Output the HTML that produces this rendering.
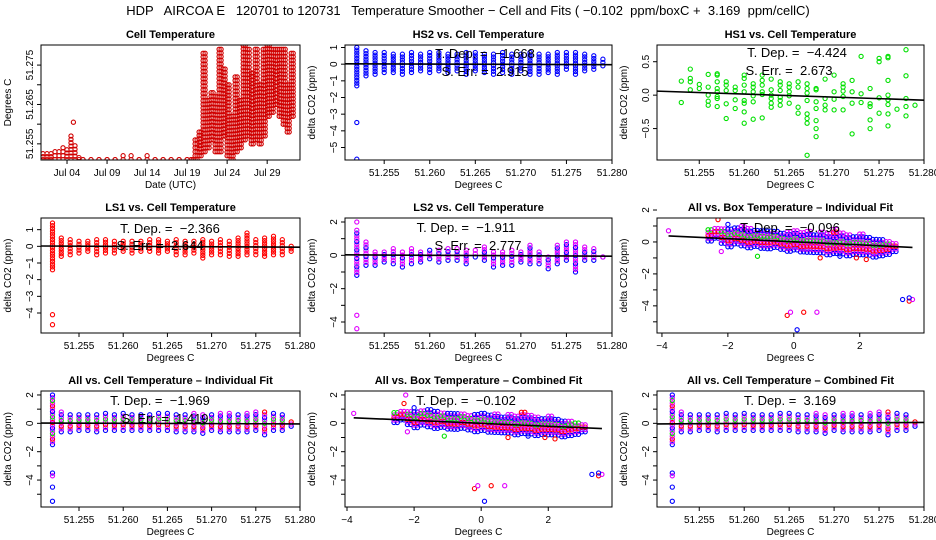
<!DOCTYPE html>
<html><head><meta charset="utf-8"><style>
html,body{margin:0;padding:0;background:#fff;}
svg{display:block;font-family:"Liberation Sans",sans-serif;}
text{white-space:pre;}
</style></head><body>
<svg id="c" width="936" height="540" viewBox="0 0 936 540">
<text x="468" y="15" text-anchor="middle" font-size="13">HDP   AIRCOA E   120701 to 120731   Temperature Smoother − Cell and Fits ( −0.102  ppm/boxC +  3.169  ppm/cellC)</text>
</svg>
<script>
// ---------- data ----------
const CT_DAY=[1,1.5,2,2.5,3,3.5,4,4.5,5,5.5,6,7,8,9,10,11,12,13,14,15,16,17,18,19,19.5,20,20.5,21,21.5,22,22.5,23,23.5,24,24.5,25,25.5,26,26.5,27,27.5,28,28.5,29,29.5,30,30.5,31,31.5,32];
const CT_LO=[51.251,51.251,51.251,51.251,51.251,51.251,51.251,51.251,51.251,51.251,51.251,51.251,51.251,51.251,51.251,51.251,51.251,51.251,51.251,51.251,51.251,51.251,51.251,51.251,51.251,51.251,51.252,51.253,51.254,51.256,51.253,51.253,51.257,51.252,51.251,51.253,51.254,51.256,51.257,51.255,51.256,51.255,51.257,51.262,51.263,51.265,51.262,51.260,51.258,51.262];
const CT_HI=[51.2525,51.2525,51.2525,51.253,51.253,51.254,51.2535,51.257,51.2545,51.2515,51.251,51.251,51.251,51.251,51.251,51.252,51.252,51.251,51.252,51.251,51.251,51.251,51.251,51.251,51.251,51.256,51.258,51.278,51.266,51.268,51.267,51.279,51.274,51.270,51.262,51.272,51.266,51.280,51.279,51.273,51.279,51.270,51.279,51.280,51.279,51.279,51.279,51.279,51.270,51.278];
const CT_OUT_X=[4.8]; const CT_OUT_Y=[51.2605];

const CELL_X=[51.252,51.253,51.254,51.255,51.256,51.257,51.258,51.259,51.260,51.261,51.262,51.263,51.264,51.265,51.266,51.267,51.268,51.269,51.270,51.271,51.272,51.273,51.274,51.275,51.276,51.277,51.278,51.279];
const HS2_LO=[-1.3,-0.7,-0.6,-0.5,-0.5,-0.6,-0.5,-0.4,-0.5,-0.4,-0.5,-0.4,-0.6,-0.4,-0.5,-0.6,-0.5,-0.6,-0.4,-0.6,-0.6,-0.5,-0.6,-0.3,-0.6,-0.4,-0.3,-0.1];
const HS2_HI=[1.0,0.8,0.7,0.7,0.6,0.6,0.7,0.6,0.7,0.7,0.6,0.6,0.7,0.7,0.6,0.6,0.7,0.6,0.6,0.7,0.6,0.6,0.7,0.7,0.7,0.6,0.5,0.3];
const HS2_OUT_X=[51.252,51.252]; const HS2_OUT_Y=[-3.5,-5.7];

const HS1_X=[51.253,51.253,51.254,51.254,51.254,51.254,51.255,51.255,51.256,51.256,51.256,51.256,51.256,51.257,51.257,51.257,51.257,51.257,51.257,51.257,51.257,51.258,51.258,51.258,51.258,51.258,51.259,51.259,51.259,51.259,51.260,51.260,51.260,51.260,51.260,51.260,51.260,51.260,51.261,51.261,51.261,51.261,51.261,51.261,51.262,51.262,51.262,51.262,51.262,51.262,51.263,51.263,51.263,51.263,51.263,51.263,51.264,51.264,51.264,51.264,51.264,51.264,51.265,51.265,51.265,51.265,51.265,51.266,51.266,51.266,51.266,51.267,51.267,51.267,51.267,51.267,51.267,51.267,51.267,51.268,51.268,51.268,51.268,51.268,51.268,51.268,51.269,51.269,51.269,51.269,51.270,51.270,51.270,51.270,51.271,51.271,51.271,51.271,51.271,51.272,51.272,51.272,51.272,51.273,51.273,51.273,51.274,51.274,51.274,51.274,51.274,51.275,51.275,51.275,51.275,51.276,51.276,51.276,51.276,51.276,51.276,51.276,51.276,51.277,51.278,51.278,51.278,51.278,51.278,51.279];
const HS1_Y=[0.21,-0.11,0.39,0.25,0.2,0.08,0.16,0.1,0.31,0.12,0,-0.09,-0.15,0.32,0.3,0.2,0.1,0.05,-0.02,-0.05,-0.17,0.2,0.15,0.07,-0.13,-0.35,0.12,0.07,-0.07,-0.2,0.3,0.25,0.15,0.05,-0.08,-0.12,-0.25,-0.42,0.17,0.12,0.05,-0.01,-0.1,-0.36,0.3,0.22,0.15,0.05,0.01,-0.34,0.24,0.08,0.0,-0.05,-0.12,-0.18,0.2,0.15,0.07,-0.03,-0.08,-0.15,0.17,0.12,0.05,-0.01,-0.12,0.2,0.12,-0.18,-0.27,0.17,0.1,0.03,-0.08,-0.28,-0.35,-0.42,-0.9,0.1,0.08,-0.1,-0.2,-0.38,-0.5,-0.62,0.24,-0.05,-0.15,-0.22,0.3,0.05,-0.06,-0.22,0.17,0.12,0.06,-0.02,-0.22,0.22,0.05,-0.12,-0.58,0.58,0.02,-0.11,0.1,-0.13,-0.17,-0.37,-0.5,0.55,0.5,-0.04,-0.27,0.58,0.56,0.22,0.0,-0.07,-0.14,-0.28,-0.46,-0.21,0.68,0.29,-0.05,-0.17,-0.31,-0.15];

const LS1_LO=[-1.4,-0.6,-0.5,-0.4,-0.3,-0.5,-0.4,-0.4,-0.3,-0.4,-0.3,-0.3,-0.4,-0.3,-0.5,-0.5,-0.4,-0.7,-0.5,-0.5,-0.6,-0.6,-0.5,-0.5,-0.6,-0.5,-0.5,-0.3];
const LS1_HI=[1.4,0.5,0.4,0.3,0.3,0.4,0.4,0.3,0.3,0.3,0.3,0.4,0.4,0.3,0.4,0.3,0.3,0.4,0.3,0.4,0.3,0.5,0.8,0.4,0.5,0.6,0.4,0.0];
const LS1_OUT_X=[51.252,51.252]; const LS1_OUT_Y=[-4.1,-4.7];

const LS2_LO=[-1.2,-0.6,-0.6,-0.4,-0.5,-0.7,-0.5,-0.4,-0.2,-0.4,-0.3,-0.3,-0.5,-0.1,-0.3,-0.7,-0.6,-0.6,-0.4,-0.5,-0.5,-0.8,-0.5,-0.3,-1.0,-0.3,-0.3,-0.1];
const LS2_HI=[1.5,0.8,0.2,0.2,0.4,0.2,0.4,0.2,0.3,0.3,0.4,0.4,0.3,0.3,0.5,0.2,0.2,0.3,0.2,0.6,0.2,-0.1,0.6,0.8,0.8,0.5,0.4,-0.1];
const LS2_OUT_X=[51.252,51.252,51.252]; const LS2_OUT_Y=[2.0,-3.6,-4.4];

const ALL_LO=[-1.5,-0.6,-0.6,-0.5,-0.5,-0.6,-0.5,-0.5,-0.5,-0.5,-0.5,-0.5,-0.5,-0.5,-0.6,-0.6,-0.6,-0.7,-0.5,-0.6,-0.6,-0.6,-0.6,-0.5,-0.8,-0.5,-0.5,-0.2];
const ALL_HI=[2.0,0.8,0.6,0.6,0.6,0.6,0.7,0.6,0.7,0.6,0.6,0.6,0.7,0.7,0.6,0.6,0.7,0.6,0.6,0.7,0.7,0.6,0.7,0.8,0.8,0.7,0.6,0.1];
const ALL_OUT_X=[51.252,51.252,51.252,51.252]; const ALL_OUT_Y=[-3.5,-3.7,-4.5,-5.5];

const BOX_X=[-2.6,-2.4,-2.2,-2.0,-1.8,-1.6,-1.4,-1.2,-1.0,-0.8,-0.6,-0.4,-0.2,0.0,0.2,0.4,0.6,0.8,1.0,1.2,1.4,1.6,1.8,2.0,2.2,2.4,2.6,2.8,3.0];
const BOX_LO=[-0.2,0.0,-0.3,-0.5,-0.3,-0.4,-0.5,-0.4,-0.5,-0.5,-0.4,-0.5,-0.6,-0.5,-0.6,-0.6,-0.6,-0.6,-0.7,-0.6,-0.6,-0.7,-0.6,-0.6,-0.6,-0.7,-0.6,-0.5,-0.3];
const BOX_HI=[0.5,0.6,0.6,0.6,0.7,0.8,0.7,0.6,0.6,0.6,0.6,0.5,0.6,0.7,0.6,0.7,0.5,0.7,0.6,0.9,0.7,0.6,0.5,0.7,0.5,0.4,0.4,0.3,0.2];
const BOX_OUT_X=[-3.8,-2.25,-2.3,-2.0,-2.2,1.9,2.2,0.8,1.4,-1.1,-0.2,-0.1,0.3,0.7,0.1,3.3,3.5,3.6,3.5];
const BOX_OUT_Y=[0.7,2.0,1.4,1.1,-0.6,-1.0,-1.1,-1.0,-0.9,-0.9,-4.6,-4.4,-4.4,-4.4,-5.5,-3.6,-3.7,-3.6,-3.5];
const BOX_OUT_C=["#e000ff","#e000ff","#ff0000","#0000ff","#e000ff","#ff0000","#ff0000","#ff0000","#0000ff","#00e000","#ff0000","#e000ff","#ff0000","#e000ff","#0000ff","#0000ff","#ff0000","#e000ff","#0000ff"];

// ---------- drawing helpers ----------
const NS="http://www.w3.org/2000/svg";
const svg=document.getElementById('c');
function mk(tag,attrs,parent){const e=document.createElementNS(NS,tag);for(const k in attrs)e.setAttribute(k,attrs[k]);(parent||svg).appendChild(e);return e;}
let clipN=0;
function panel(key,l,t,r,b,x0,x1,y0,y1){
  const g=mk('g',{});
  
  
  const id='clip'+(clipN++);
  const cp=mk('clipPath',{id:id},g);mk('rect',{x:l,y:t,width:r-l,height:b-t},cp);
  const pts=mk('g',{'clip-path':'url(#'+id+')'},g);
  
  
  return {g,pts,l,t,r,b,sx:v=>l+(v-x0)/(x1-x0)*(r-l),sy:v=>b-(v-y0)/(y1-y0)*(b-t)};
}
function pt(P,x,y,col){
  const c=mk('circle',{cx:P.sx(x).toFixed(1),cy:P.sy(y).toFixed(1),r:2.1,fill:'none',stroke:col,'stroke-width':1.1},P.pts);
  
  
}
function column(P,x,lo,hi,cols,step){
  const span=Math.abs(P.sy(hi)-P.sy(lo));const n=Math.max(1,Math.round(span/(step||2.8)));
  for(let i=0;i<=n;i++){pt(P,x,lo+(hi-lo)*i/n,cols[i%cols.length]);}
}
function frame(P,title,xlab,xt,xtl,yt,ytl){
  const f=mk('rect',{x:P.l,y:P.t,width:P.r-P.l,height:P.b-P.t,fill:'none',stroke:'#000','stroke-width':1},P.g);
  
  const tt=mk('text',{x:(P.l+P.r)/2,y:P.t-7,'text-anchor':'middle','font-size':11,'font-weight':'bold'},P.g);tt.textContent=title;
  
  xt.forEach((v,i)=>{const x=P.sx(v);mk('line',{x1:x,x2:x,y1:P.b,y2:P.b+4,stroke:'#000'},P.g);
    if(xtl[i]!==''){const t=mk('text',{x:x,y:P.b+16,'text-anchor':'middle','font-size':10},P.g);t.textContent=xtl[i];
    }});
  yt.forEach((v,i)=>{const y=P.sy(v);mk('line',{x1:P.l-4,x2:P.l,y1:y,y2:y,stroke:'#000'},P.g);
    if(ytl[i]!==''){const t=mk('text',{x:P.l-8,y:y,'text-anchor':'middle','font-size':10,transform:`rotate(-90 ${P.l-8} ${y})`},P.g);t.textContent=ytl[i];
    }});
  const xl=mk('text',{x:(P.l+P.r)/2,y:P.b+28,'text-anchor':'middle','font-size':10},P.g);xl.textContent=xlab;
  
  const ym=(P.t+P.b)/2,yx=P.l-30;
  const yl=mk('text',{x:yx,y:ym,'text-anchor':'middle','font-size':10,transform:`rotate(-90 ${yx} ${ym})`},P.g);yl.textContent=(title==='Cell Temperature')?'Degrees C':'delta CO2 (ppm)';
  
}
function fit(P,xa,xb,ya,yb){const l=mk('line',{x1:P.sx(xa),y1:P.sy(ya),x2:P.sx(xb),y2:P.sy(yb),stroke:'#000','stroke-width':1.6},P.g);
  }
function note(P,x,y,s){const t=mk('text',{x:x,y:y,'text-anchor':'middle','font-size':13},P.g);t.textContent=s;
  }

const CX=[51.255,51.260,51.265,51.270,51.275,51.280];
const CXL=['51.255','51.260','51.265','51.270','51.275','51.280'];
const MIX=['#0000ff','#e000ff','#ff0000','#e000ff','#00e000','#e000ff'];

// r1c1 cell temperature
let P=panel('cell-temperature',41,45,300,160,0.75,33.1,51.2509,51.2801);
CT_DAY.forEach((d,i)=>column(P,d,CT_LO[i],CT_HI[i],['#d00000'],3.6));
CT_DAY.forEach((d,i)=>{if(d>=19.5)column(P,d+0.25,CT_LO[i],CT_HI[i],['#d00000'],3.6);});
CT_OUT_X.forEach((d,i)=>pt(P,d,CT_OUT_Y[i],'#d00000'));
frame(P,'Cell Temperature','Date (UTC)',[4,9,14,19,24,29],['Jul 04','Jul 09','Jul 14','Jul 19','Jul 24','Jul 29'],
  [51.255,51.260,51.265,51.270,51.275],['51.255','','51.265','','51.275']);

// r1c2 HS2
P=panel('hs2',345,45,612,160,51.2507,51.2800,-5.75,1.15);
CELL_X.forEach((x,i)=>column(P,x,HS2_LO[i],HS2_HI[i],['#0000ff']));
HS2_OUT_X.forEach((x,i)=>pt(P,x,HS2_OUT_Y[i],'#0000ff'));
fit(P,51.2507,51.2800,0.02,-0.03);
frame(P,'HS2 vs. Cell Temperature','Degrees C',CX,CXL,[1,0,-1,-2,-3,-4,-5],['1','0','−1','−2','−3','−4','−5']);
note(P,485,58,'T. Dep. =  −1.668');note(P,485,76,'S. Err. =  2.915');

// r1c3 HS1
P=panel('hs1',657,45,924,160,51.2503,51.2800,-0.97,0.75);
HS1_X.forEach((x,i)=>pt(P,x,HS1_Y[i],'#00e000'));
fit(P,51.2503,51.2800,0.06,-0.075);
frame(P,'HS1 vs. Cell Temperature','Degrees C',CX,CXL,[0.5,0,-0.5],['0.5','0.0','−0.5']);
note(P,797,57,'T. Dep. =  −4.424');note(P,789,75,'S. Err. =  2.673');

// r2c1 LS1
P=panel('ls1',41,218,300,333,51.2507,51.2800,-5.2,1.7);
CELL_X.forEach((x,i)=>column(P,x,LS1_LO[i],LS1_HI[i],['#ff0000']));
LS1_OUT_X.forEach((x,i)=>pt(P,x,LS1_OUT_Y[i],'#ff0000'));
fit(P,51.2507,51.2800,0.02,-0.05);
frame(P,'LS1 vs. Cell Temperature','Degrees C',CX,CXL,[1,0,-1,-2,-3,-4],['1','0','−1','−2','−3','−4']);
note(P,170,233,'T. Dep. =  −2.366');note(P,160,250,'S. Err. =  2.644');

// r2c2 LS2
P=panel('ls2',345,218,612,333,51.2507,51.2800,-4.66,2.24);
CELL_X.forEach((x,i)=>column(P,x,LS2_LO[i],LS2_HI[i],['#0000ff','#e000ff','#e000ff']));
LS2_OUT_X.forEach((x,i)=>pt(P,x,LS2_OUT_Y[i],'#e000ff'));
fit(P,51.2507,51.2800,0.03,-0.05);
frame(P,'LS2 vs. Cell Temperature','Degrees C',CX,CXL,[2,1,0,-1,-2,-3,-4],['2','','0','','−2','','−4']);
note(P,466,232,'T. Dep. =  −1.911');note(P,478,250,'S. Err. =  2.777');

// r2c3 box individual
P=panel('all-box-individual',657,218,924,333,-4.15,3.95,-5.7,1.5);
BOX_X.forEach((x,i)=>{column(P,x,BOX_LO[i]-0.1*x,BOX_HI[i]-0.1*x,MIX);column(P,x+0.1,BOX_LO[i]-0.1*x,BOX_HI[i]-0.1*x,MIX);});
BOX_OUT_X.forEach((x,i)=>pt(P,x,BOX_OUT_Y[i],BOX_OUT_C[i]));
fit(P,-3.8,3.6,0.38,-0.34);
frame(P,'All vs. Box Temperature – Individual Fit','Degrees C',[-4,-2,0,2],['−4','−2','0','2'],[2,1,0,-1,-2,-3,-4,-5],['2','','0','','−2','','−4','']);
note(P,790,232,'T. Dep. =  −0.096');

// r3c1 all vs cell individual
P=panel('all-cell-individual',41,391,300,507,51.2507,51.2800,-5.9,2.28);
CELL_X.forEach((x,i)=>column(P,x,ALL_LO[i],ALL_HI[i],MIX));
ALL_OUT_X.forEach((x,i)=>pt(P,x,ALL_OUT_Y[i],i==1?'#e000ff':'#0000ff'));
fit(P,51.2507,51.2800,0.02,-0.04);
frame(P,'All vs. Cell Temperature – Individual Fit','Degrees C',CX,CXL,[2,1,0,-1,-2,-3,-4,-5],['2','','0','','−2','','−4','']);
note(P,160,405,'T. Dep. =  −1.969');note(P,165,423,'S. Err. =  1.419');

// r3c2 box combined
P=panel('all-box-combined',345,391,612,507,-4.06,3.9,-5.9,2.28);
BOX_X.forEach((x,i)=>{column(P,x,BOX_LO[i]-0.1*x,BOX_HI[i]-0.1*x,MIX);column(P,x+0.1,BOX_LO[i]-0.1*x,BOX_HI[i]-0.1*x,MIX);});
BOX_OUT_X.forEach((x,i)=>pt(P,x,BOX_OUT_Y[i],BOX_OUT_C[i]));
fit(P,-3.8,3.6,0.39,-0.37);
frame(P,'All vs. Box Temperature – Combined Fit','Degrees C',[-4,-2,0,2],['−4','−2','0','2'],[2,1,0,-1,-2,-3,-4,-5],['2','','0','','−2','','−4','']);
note(P,466,405,'T. Dep. =  −0.102');

// r3c3 all vs cell combined
P=panel('all-cell-combined',657,391,924,507,51.2503,51.2800,-5.9,2.28);
CELL_X.forEach((x,i)=>column(P,x,ALL_LO[i],ALL_HI[i],MIX));
ALL_OUT_X.forEach((x,i)=>pt(P,x,ALL_OUT_Y[i],i==1?'#e000ff':'#0000ff'));
fit(P,51.2503,51.2800,-0.04,0.06);
frame(P,'All vs. Cell Temperature – Combined Fit','Degrees C',CX,CXL,[2,1,0,-1,-2,-3,-4,-5],['2','','0','','−2','','−4','']);
note(P,790,405,'T. Dep. =  3.169');
</script>
</body></html>
